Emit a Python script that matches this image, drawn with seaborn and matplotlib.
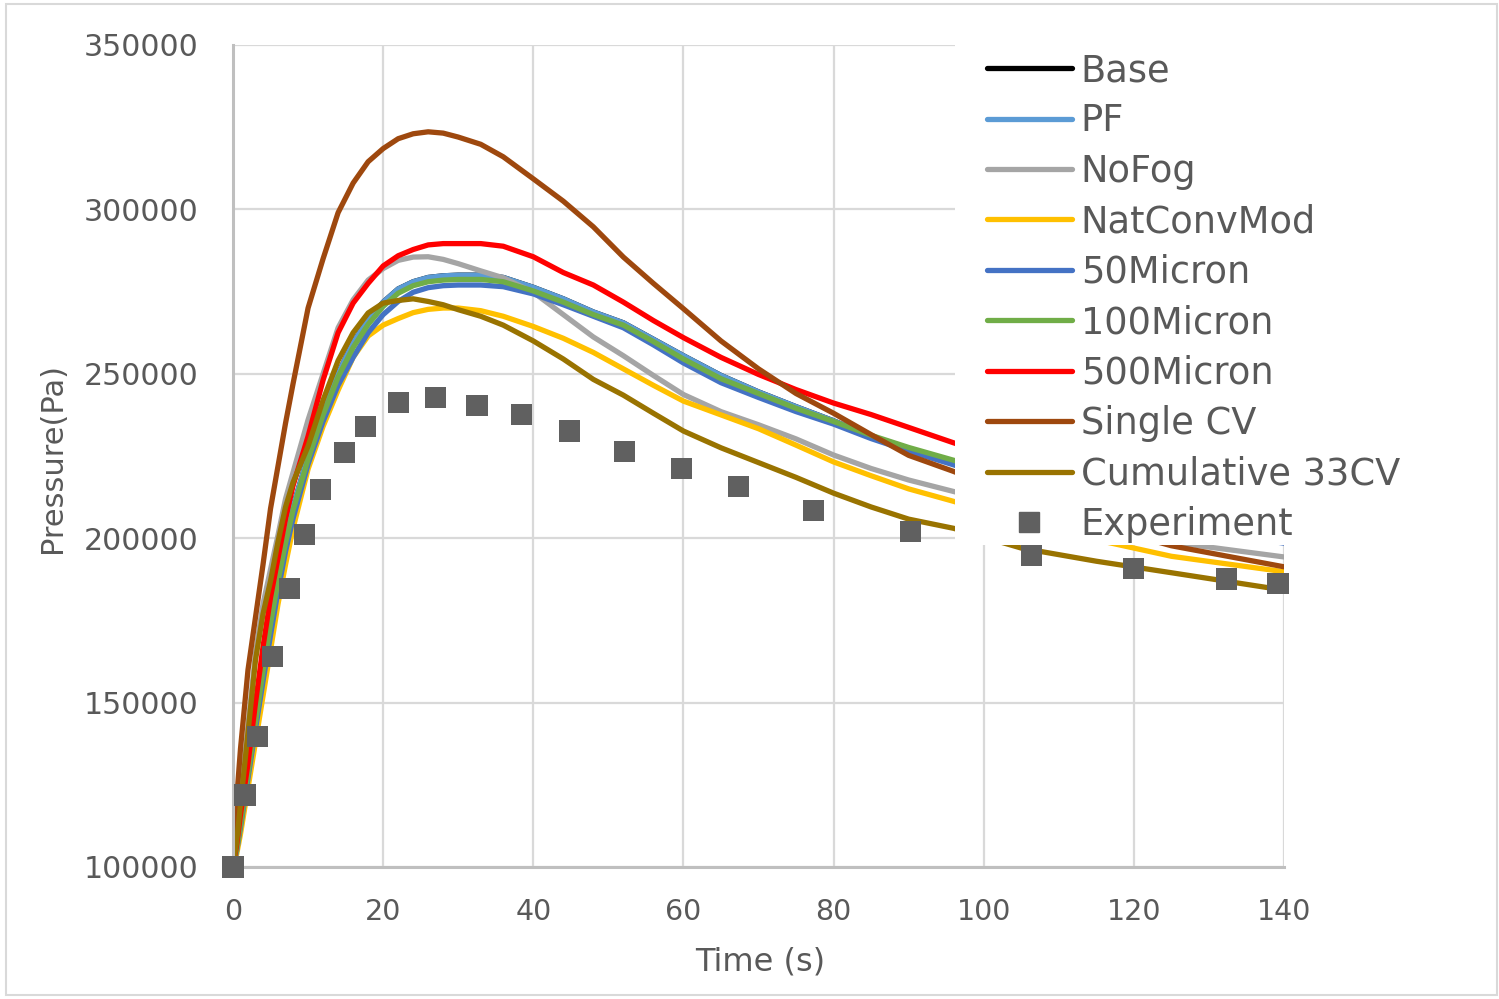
import pandas as pd
import matplotlib
matplotlib.use('Agg')
import matplotlib.pyplot as plt
from matplotlib.lines import Line2D
from matplotlib.patches import Rectangle
import seaborn as sns

# shared time axis of the simulated cases (s)
time_s = [0, 0.5, 1, 2, 3, 4, 5, 6, 7, 8, 10, 12, 14, 16, 18, 20, 22, 24, 26, 28,
          30, 33, 36, 40, 44, 48, 52, 56, 60, 65, 70, 75, 80, 85, 90, 96, 105, 115, 125, 140]

# pressure (Pa) of each case
base_p = [100000, 105500, 113000, 129000, 145000, 160500, 175000, 188000, 199500, 209500,
          225000, 238500, 250000, 259500, 266500, 271800, 275800, 278000, 279300, 279800,
          280000, 280000, 279300, 276300, 272800, 268800, 265500, 260500, 255500, 249500,
          244500, 240000, 235700, 231000, 227300, 222800, 216000, 209500, 204000, 199000]
pf_p = [100000, 105500, 113000, 129000, 145000, 160500, 175000, 188000, 199500, 209500,
        225000, 238500, 250000, 259500, 266500, 271800, 275800, 278000, 279300, 279800,
        280000, 280000, 279300, 276300, 272800, 268800, 265500, 260500, 255500, 249500,
        244500, 240000, 235700, 231000, 227300, 222800, 216000, 209500, 204000, 199000]
nofog_p = [100000, 110000, 121000, 143000, 165000, 180000, 190500, 201000, 212000, 220000,
           236000, 250000, 264000, 272500, 278500, 282000, 284500, 285500, 285600, 284800,
           283500, 281300, 279200, 274800, 268000, 261200, 255500, 249500, 243700, 238500,
           234500, 230200, 225300, 221200, 217700, 214200, 209000, 203500, 198800, 194300]
natconv_p = [100000, 104000, 110000, 124000, 138000, 152000, 166000, 180000, 192000, 203000,
             221000, 234000, 245000, 255000, 261500, 264800, 266800, 268600, 269600, 270000,
             270000, 269200, 267500, 264400, 260800, 256500, 251500, 246500, 241700, 237500,
             233300, 228300, 223200, 219000, 215000, 211200, 205000, 199500, 194500, 189800]
micron50_p = [100000, 105000, 112000, 127000, 142000, 156500, 170500, 184000, 196000, 206000,
              222500, 235500, 246500, 255000, 262500, 268000, 272000, 274800, 276200, 276800,
              277000, 277000, 276500, 274300, 271000, 267500, 264000, 258800, 253300, 247300,
              242800, 238500, 234700, 230300, 226500, 222300, 215500, 209000, 203500, 198500]
micron100_p = [100000, 105500, 113000, 128500, 144000, 159500, 174000, 187000, 198500, 208500,
               224000, 237500, 249000, 258000, 265000, 270500, 274500, 276800, 278000, 278500,
               278700, 278700, 278000, 275200, 271800, 268000, 264800, 259800, 254500, 248500,
               244000, 239500, 235500, 231300, 227600, 223700, 217000, 210500, 205000, 200000]
micron500_p = [100000, 107000, 116000, 131500, 150000, 167000, 182000, 194000, 206000, 216000,
               231000, 248100, 262500, 271500, 277500, 282800, 285900, 287800, 289200, 289600,
               289600, 289600, 288800, 285600, 280800, 277000, 271800, 266200, 261000, 255000,
               249800, 245200, 241100, 237600, 233700, 229000, 222500, 215500, 209000, 202500]
singlecv_p = [100000, 121000, 136000, 160000, 176000, 192000, 209000, 222000, 235000, 247000,
              270000, 285000, 299000, 308000, 314500, 318500, 321500, 323000, 323600, 323200,
              322000, 319800, 316000, 309300, 302500, 294700, 285500, 277500, 269800, 260000,
              251500, 244000, 238000, 231500, 225200, 220300, 212000, 204000, 197700, 191300]
cumul_p = [100000, 108000, 119000, 141000, 163000, 177000, 187000, 199000, 209500, 217000,
           228000, 242000, 254000, 262500, 268500, 271500, 272300, 272800, 272000, 271000,
           269500, 267500, 264800, 260000, 254500, 248300, 243500, 238000, 232600, 227500,
           223000, 218500, 213700, 209500, 205800, 203000, 197000, 193000, 189500, 184200]

# experimental points
exp_t = [0, 1.6, 3.3, 5.3, 7.5, 9.5, 11.6, 14.9, 17.6, 22.1, 27.0, 32.5, 38.4, 44.8,
         52.2, 59.7, 67.3, 77.3, 90.2, 106.4, 119.9, 132.4, 139.2]
exp_p = [100000, 121900, 139800, 163900, 184600, 201000, 214700, 226200, 234100, 241400,
         242900, 240500, 237500, 232600, 226500, 221100, 215600, 208300, 201900, 194900,
         190900, 187600, 186100]

case_names = ['Base', 'PF', 'NoFog', 'NatConvMod', '50Micron', '100Micron',
              '500Micron', 'Single CV', 'Cumulative 33CV']
case_values = [base_p, pf_p, nofog_p, natconv_p, micron50_p, micron100_p,
               micron500_p, singlecv_p, cumul_p]
case_colors = ['#000000', '#5B9BD5', '#A5A5A5', '#FFC000', '#4472C4', '#70AD47',
               '#FF0000', '#9E480E', '#997300']
exp_color = '#606060'

x_ticks = [0, 20, 40, 60, 80, 100, 120, 140]
y_ticks = [100000, 150000, 200000, 250000, 300000, 350000]

df = pd.concat([pd.DataFrame({'Time': time_s, 'Pressure': v, 'Case': n})
                for n, v in zip(case_names, case_values)], ignore_index=True)

sns.set_theme(style='whitegrid')
plt.rcParams['font.family'] = ['DejaVu Sans']
text_col = '#595959'
lw = 3.8

fig = plt.figure(figsize=(14.99, 9.99), dpi=100)
ax = fig.add_axes([233 / 1499, 1 - 867 / 999, 1051 / 1499, 822 / 999])

sns.lineplot(data=df, x='Time', y='Pressure', hue='Case', hue_order=case_names,
             palette=dict(zip(case_names, case_colors)), linewidth=lw,
             sort=False, estimator=None, legend=False, ax=ax)
sns.scatterplot(x=exp_t, y=exp_p, marker='s', s=230, color=exp_color,
                edgecolor='none', legend=False, ax=ax, clip_on=False, zorder=5)

ax.set_xlim(0, 140)
ax.set_ylim(100000, 350000)
ax.set_xticks(x_ticks)
ax.set_xticklabels([str(v) for v in x_ticks])
ax.set_yticks(y_ticks)
ax.set_yticklabels([str(v) for v in y_ticks])
ax.set_xlabel('')
ax.set_ylabel('')
ax.set_facecolor('white')
ax.grid(True, color='#d9d9d9', linewidth=1.6)
for side in ['top', 'right']:
    ax.spines[side].set_visible(False)
for side in ['left', 'bottom']:
    ax.spines[side].set_color('#bfbfbf')
    ax.spines[side].set_linewidth(2.2)
ax.tick_params(axis='y', length=0, labelsize=21.6, labelcolor=text_col, pad=25)
ax.tick_params(axis='x', length=0, labelsize=20.5, labelcolor=text_col, pad=22)

fig.text(52 / 1499, 1 - 458 / 999, 'Pressure(Pa)', rotation=90, ha='center',
         va='center', fontsize=22, color=text_col)
fig.text(760 / 1499, 1 - 962 / 999, 'Time (s)', ha='center', va='center',
         fontsize=23, color=text_col)

# white legend area covering the upper right of the plot
fig.add_artist(Rectangle((955 / 1499, 1 - 545 / 999), (1470 - 955) / 1499, (545 - 40) / 999,
                         transform=fig.transFigure, facecolor='white',
                         edgecolor='none', zorder=3))
# chart border
fig.add_artist(Rectangle((6 / 1499, 4 / 999), 1491 / 1499, 991 / 999,
                         transform=fig.transFigure, fill=False,
                         edgecolor='#d9d9d9', linewidth=1.5, zorder=1))

handles = [Line2D([], [], color=c, linewidth=lw, solid_capstyle='round')
           for c in case_colors]
handles.append(Line2D([], [], linestyle='none', marker='s', markersize=15,
                      color=exp_color))
labels = case_names + ['Experiment']
fig.legend(handles, labels, loc='upper left', bbox_to_anchor=(987 / 1499, 1 - 52 / 999),
           frameon=False, fontsize=26.5, handlelength=2.3, handletextpad=0.25,
           labelspacing=0.365, borderpad=0, borderaxespad=0, labelcolor=text_col)

fig.savefig('out.png', dpi=100, facecolor='white')
